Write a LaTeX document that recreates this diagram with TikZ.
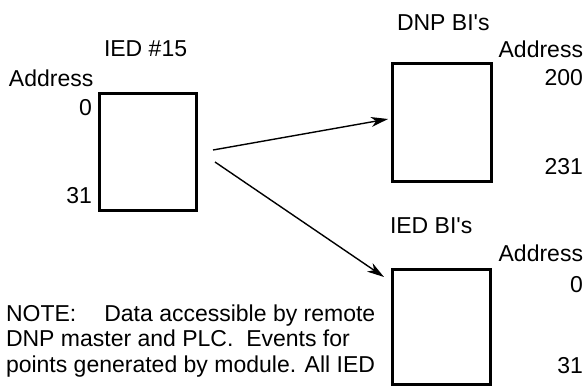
\documentclass[tikz,border=0pt]{standalone}
\usepackage{fontspec}
\setmainfont{Liberation Sans}
\usetikzlibrary{arrows.meta}
\begin{document}
\begin{tikzpicture}[x=1pt,y=-1pt,
  every node/.style={inner sep=0pt,outer sep=0pt,font=\fontsize{23}{26}\selectfont},
  membox/.style={draw,line width=3pt,minimum width=#1,rectangle},
  lbl/.style={anchor=base west},
  rlbl/.style={anchor=base east},
  conn/.style={line width=1.4pt,-{Stealth[length=17pt,width=10pt,inset=5pt]}}]
\clip (0,0) rectangle (585,386);
% boxes
\node[membox=97pt,minimum height=117pt] (ied) at (147.5,151.5) {};
\node[membox=99pt,minimum height=118pt] (dnp) at (442,122) {};
\node[membox=98pt,minimum height=115pt] (iedbi) at (441.5,326.5) {};
% left labels
\node[lbl] (t1) at (104,56) {IED \#15};
\node[lbl] (a1) at (9,86) {Address};
\node[rlbl] (z1) at (92,115) {0};
\node[rlbl] (e1) at (92,203) {31};
% DNP labels
\node[lbl] (t2) at (397,30) {DNP BI\textquotesingle s};
\node[rlbl] (a2) at (583,57) {Address};
\node[rlbl] (z2) at (583,85) {200};
\node[rlbl] (e2) at (583,174) {231};
% IED BI labels
\node[lbl] (t3) at (390,233) {IED BI\textquotesingle s};
\node[rlbl] (a3) at (583,261) {Address};
\node[rlbl] (z3) at (583,292) {0};
\node[rlbl] (e3) at (583,373) {31};
% note
\node[lbl] (n1) at (6,321) {NOTE:\hspace{28pt}Data accessible by remote};
\node[lbl] (n2) at (6,346.5) {DNP master and PLC.\ \ Events for};
\node[lbl] (n3) at (6,372) {points generated by module. All IED};
% connectors
\coordinate (s1) at (213,150);
\coordinate (f1) at (388,119);
\coordinate (s2) at (215,162);
\coordinate (f2) at (384,277);
\draw[conn] (s1) -- (f1);
\draw[conn] (s2) -- (f2);
\end{tikzpicture}
\end{document}
